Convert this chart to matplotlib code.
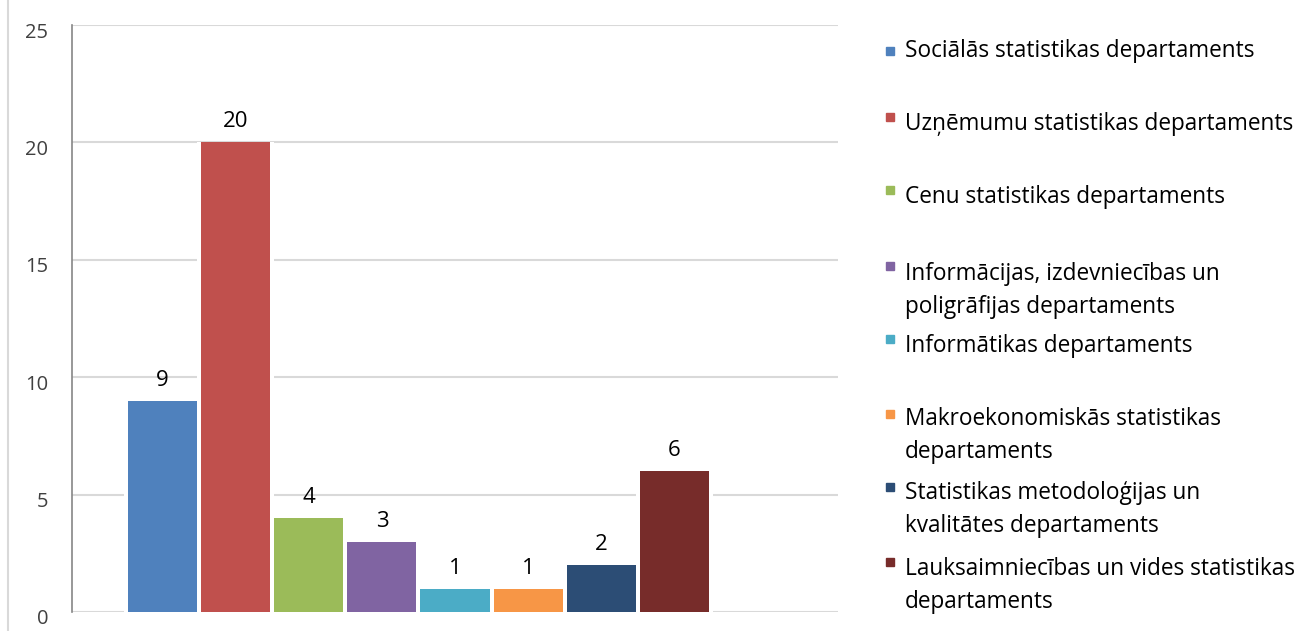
import matplotlib.pyplot as plt
import matplotlib.transforms as mtransforms
from matplotlib.lines import Line2D
from matplotlib.patches import Rectangle

plt.rcParams['font.family'] = ['Open Sans', 'DejaVu Sans']

# data
departments = [
    'Sociālās statistikas departaments',
    'Uzņēmumu statistikas departaments',
    'Cenu statistikas departaments',
    'Informācijas, izdevniecības un\npoligrāfijas departaments',
    'Informātikas departaments',
    'Makroekonomiskās statistikas\ndepartaments',
    'Statistikas metodoloģijas un\nkvalitātes departaments',
    'Lauksaimniecības un vides statistikas\ndepartaments',
]
counts = [9, 20, 4, 3, 1, 1, 2, 6]
colors = ['#4F81BD', '#C0504D', '#9BBB59', '#8064A2',
          '#4BACC6', '#F79646', '#2C4D75', '#772C2A']
yticks = [0, 5, 10, 15, 20, 25]

W, H = 1308, 631
fig = plt.figure(figsize=(W / 100, H / 100), dpi=100)
ax = fig.add_axes([72 / W, 1 - 612 / H, (838 - 72) / W, (612 - 25) / H])

xs = list(range(len(counts)))
# white halo behind the bars so the gridlines stop short of them
ax.bar(xs, counts, width=77 / 73, color='white', zorder=2)
bars = ax.bar(xs, counts, width=69 / 73, color=colors, zorder=3)
for b, v in zip(bars, counts):
    ax.annotate(str(v), (b.get_x() + b.get_width() / 2, v), xytext=(0, 10.8),
                textcoords='offset points', ha='center', va='baseline',
                fontsize=16, color='black')

ax.set_xlim(-1.24, 9.24)
ax.set_ylim(0, 25)
ax.set_yticks(yticks)
ax.set_xticks([])
ax.yaxis.grid(True, color='#D9D9D9', linewidth=1.5, zorder=0)
ax.tick_params(axis='y', length=0, pad=17, labelsize=14.5, labelcolor='#404040')
shift = mtransforms.ScaledTranslation(0, -5 / 100, fig.dpi_scale_trans)
for lab in ax.get_yticklabels():
    lab.set_transform(lab.get_transform() + shift)
for s in ['top', 'right', 'bottom']:
    ax.spines[s].set_visible(False)
ax.spines['left'].set_color('#868686')
ax.spines['left'].set_linewidth(1.2)

# chart area border on the left
fig.add_artist(Line2D([8 / W, 8 / W], [0, 1], color='#D9D9D9', linewidth=1.5))

# legend, drawn by hand so the marker sits on the first line
baselines = [57, 130, 203, 282, 352, 427, 501, 577]   # first line
marker_tops = [47, 113, 186, 262, 335, 410, 483, 558]
line_step = 31
for name, c, yb, ym in zip(departments, colors, baselines, marker_tops):
    fig.add_artist(Rectangle((886 / W, 1 - (ym + 8) / H), 8 / W, 8 / H,
                             color=c, transform=fig.transFigure))
    # va='baseline' anchors the last line, so move down for wrapped labels
    y_last = yb + line_step * name.count('\n')
    fig.text(905 / W, 1 - y_last / H, name, ha='left', va='baseline',
             fontsize=16.3, color='black', linespacing=1.5)

fig.savefig('out.png', dpi=100)
